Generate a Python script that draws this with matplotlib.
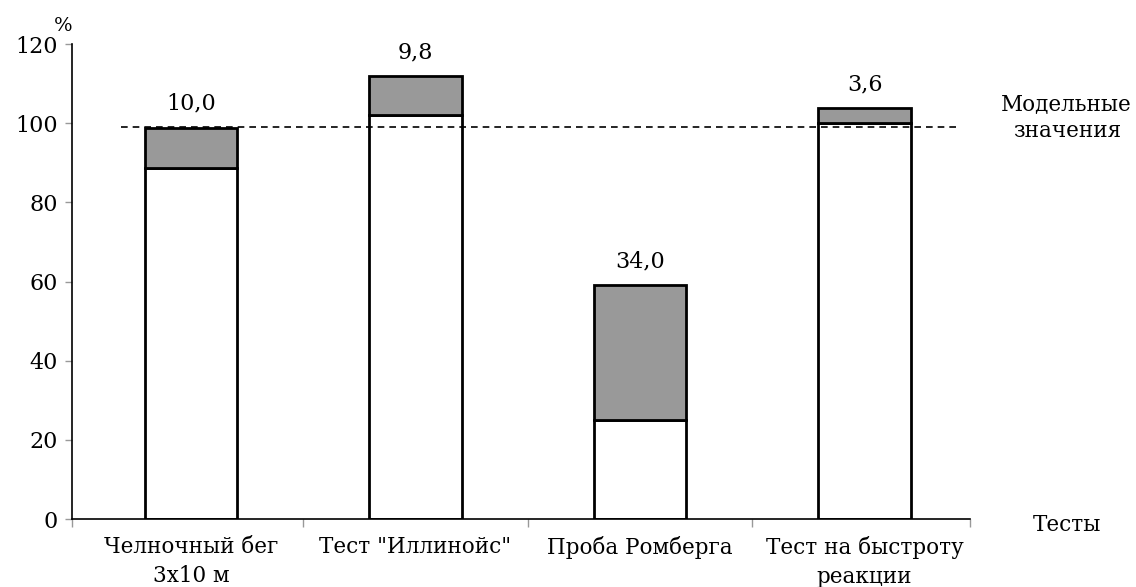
import matplotlib
matplotlib.use("Agg")
import matplotlib.pyplot as plt
import numpy as np

categories = ["Челночный бег\n3x10 м", "Тест \"Иллинойс\"", "Проба Ромберга", "Тест на быстроту\nреакции"]
base_values = [88.7, 102.1, 25.0, 100.0]
total_values = [98.8, 111.9, 59.1, 103.8]
gain_labels = ["10,0", "9,8", "34,0", "3,6"]
model_level = 99.0

plt.rcParams['font.family'] = ['DejaVu Serif']

fig = plt.figure(figsize=(11.36, 5.87), dpi=100)
ax = fig.add_axes([0.0634, 0.1158, 0.7905, 0.8092])

x = np.arange(len(categories))
extra = np.array(total_values) - np.array(base_values)
ax.bar(x, base_values, width=0.41, color='white', edgecolor='black', linewidth=2.0, zorder=2)
ax.bar(x, extra, bottom=base_values, width=0.41, color='#999999', edgecolor='black', linewidth=2.0, zorder=2)

for xi, top, lab in zip(x, total_values, gain_labels):
    ax.text(xi, top + 3.3, lab, ha='center', va='bottom', fontsize=16)

ax.plot([-0.31, 3.43], [model_level, model_level], linestyle=(0, (4, 3)), color='black', linewidth=1.2, zorder=3)

ax.set_xlim(-0.53, 3.47)
ax.set_ylim(0, 120)
ax.set_yticks(np.arange(0, 121, 20))
ax.tick_params(axis='y', labelsize=16, color='#999999', length=5, width=1, pad=5)

ax.set_xticks([-0.53, 0.5, 1.5, 2.5, 3.47])
ax.set_xticklabels([])
ax.set_xticks(x, minor=True)
ax.set_xticklabels(categories, minor=True, fontsize=15.5, linespacing=1.45)
ax.tick_params(axis='x', which='major', color='#999999', length=6, width=1)
ax.tick_params(axis='x', which='minor', length=0, pad=12)

for s in ['top', 'right']:
    ax.spines[s].set_visible(False)
ax.spines['left'].set_linewidth(1.2)
ax.spines['bottom'].set_linewidth(1.2)

fig.text(0.047, 0.955, "%", fontsize=14, ha='left', va='center')
fig.text(0.939, 0.80, "Модельные\nзначения", fontsize=15.5, ha='center', va='center', linespacing=1.3)
fig.text(0.939, 0.105, "Тесты", fontsize=15.5, ha='center', va='center')

fig.savefig("out.png", dpi=100)
